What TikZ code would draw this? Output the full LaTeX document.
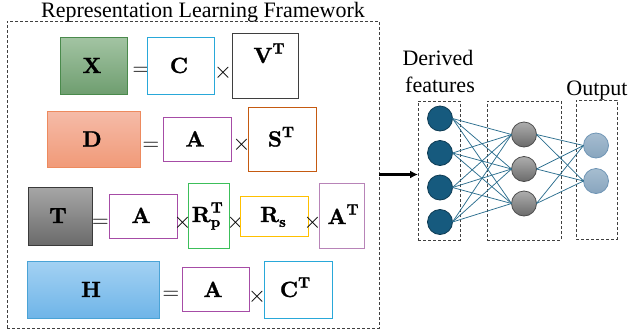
\RequirePackage{fix-cm}
\documentclass[tikz,border=0pt]{standalone}
\usepackage[no-math]{fontspec}
\setmainfont{Liberation Serif}
\newfontfamily\labfont{lmroman10-bold.otf}[FakeBold=1.3]
\newcommand\supT[1]{\raisebox{0.43em}{\fontsize{15}{15}\selectfont #1}}
\newcommand\subS[1]{\raisebox{-0.22em}{\fontsize{15}{15}\selectfont #1}}
\usetikzlibrary{arrows.meta}
\definecolor{xborder}{HTML}{4A8A4C}
\definecolor{xtop}{HTML}{A3C4A3}
\definecolor{xbot}{HTML}{6F9E70}
\definecolor{dborder}{HTML}{ED8A5E}
\definecolor{dtop}{HTML}{F5BBA8}
\definecolor{dbot}{HTML}{F19A78}
\definecolor{tborder}{HTML}{3A3A3A}
\definecolor{ttop}{HTML}{A6A6A6}
\definecolor{tbot}{HTML}{6B6B6B}
\definecolor{hborder}{HTML}{4AA3D6}
\definecolor{htop}{HTML}{A3D1F3}
\definecolor{hbot}{HTML}{6FB5E8}
\definecolor{cblue}{HTML}{29A8D9}
\definecolor{vgray}{HTML}{3F3F3F}
\definecolor{sorange}{HTML}{C55A11}
\definecolor{apurple}{HTML}{A64CA6}
\definecolor{rgreen}{HTML}{3CBF5A}
\definecolor{ryellow}{HTML}{FFC000}
\definecolor{amauve}{HTML}{B884B8}
\definecolor{inneur}{HTML}{165A7E}
\definecolor{inneurd}{HTML}{0D3A52}
\definecolor{outtop}{HTML}{A6BDD0}
\definecolor{outbot}{HTML}{88A5BE}
\definecolor{outd}{HTML}{6F95B5}
\definecolor{edgec}{HTML}{2D6F8F}
\begin{document}
\begin{tikzpicture}[x=1pt,y=-1pt,
  every node/.style={inner sep=0pt, outer sep=0pt},
  big/.style={font=\fontsize{22}{26}\selectfont},
  op/.style={font=\fontsize{23}{27}\selectfont},
  lab/.style={font={\fontsize{22}{26}\labfont}},
  mat/.style={draw, line width=0.9pt, fill=white},
  dbox/.style={draw=black!75, dashed, dash pattern=on 3pt off 2pt, line width=0.8pt},
  neuron/.style={circle, minimum size=25pt, line width=0.8pt},
  edge/.style={draw=edgec, line width=0.75pt}]
\useasboundingbox (0,0) rectangle (629,335);

% outer framework
\node[dbox, minimum width=372pt, minimum height=307pt] (outer) at (193,174.5) {};
\node[big, anchor=base] (title) at (203,17) {Representation Learning Framework};

% row X
\node[mat, draw=xborder, top color=xtop, bottom color=xbot, minimum width=67pt, minimum height=57pt] (X) at (93.5,65.5) {};
\node[lab, anchor=base] (Xl) at (92,73) {X};
\node[op] (eq1) at (141,71) {$=$};
\node[mat, draw=cblue, minimum width=67pt, minimum height=57pt] (C) at (180.5,65.5) {};
\node[lab, anchor=base] (Cl) at (179,73) {C};
\node[op] (t1) at (223,73) {$\times$};
\node[mat, draw=vgray, minimum width=66pt, minimum height=65pt] (VT) at (265,65.5) {};
\node[lab, anchor=base] (VTl) at (269,63) {V\supT{T}};

% row D
\node[mat, draw=dborder, top color=dtop, bottom color=dbot, minimum width=93pt, minimum height=56pt] (D) at (93.5,139) {};
\node[lab, anchor=base] (Dl) at (92,146.5) {D};
\node[op] (eq2) at (151,146) {$=$};
\node[mat, draw=apurple, minimum width=68pt, minimum height=44pt] (A1) at (197,139) {};
\node[lab, anchor=base] (A1l) at (195,146.5) {A};
\node[op] (t2) at (241.5,145) {$\times$};
\node[mat, draw=sorange, minimum width=68pt, minimum height=64pt] (ST) at (282,139) {};
\node[lab, anchor=base] (STl) at (281,146.5) {S\supT{T}};

% row T
\node[mat, draw=tborder, top color=ttop, bottom color=tbot, minimum width=64pt, minimum height=58pt] (T) at (60,216) {};
\node[lab, anchor=base] (Tl) at (58,223) {T};
\node[op] (eq3) at (100.5,223) {$=$};
\node[mat, draw=apurple, minimum width=68pt, minimum height=44pt] (A2) at (143,216) {};
\node[lab, anchor=base] (A2l) at (141,223) {A};
\node[op] (t3) at (182.5,223) {$\times$};
\node[mat, draw=rgreen, minimum width=41pt, minimum height=65pt] (RpT) at (208.5,215.5) {};
\node[lab, anchor=base] (RpTl) at (206,222) {R\rlap{\supT{T}}\subS{p}};
\node[op] (t4) at (235.5,223) {$\times$};
\node[mat, draw=ryellow, minimum width=68pt, minimum height=40pt] (Rs) at (274,216) {};
\node[lab, anchor=base] (Rsl) at (273,222) {R\subS{s}};
\node[op] (t5) at (312.5,223) {$\times$};
\node[mat, draw=amauve, minimum width=45pt, minimum height=65pt] (AT) at (341.5,215.5) {};
\node[lab, anchor=base] (ATl) at (343,224) {A\supT{T}};

% row H
\node[mat, draw=hborder, top color=htop, bottom color=hbot, minimum width=132pt, minimum height=57pt] (H) at (93,289.5) {};
\node[lab, anchor=base] (Hl) at (91,297) {H};
\node[op] (eq4) at (171,295.5) {$=$};
\node[mat, draw=apurple, minimum width=67pt, minimum height=44pt] (A3) at (215.5,289) {};
\node[lab, anchor=base] (A3l) at (213,297) {A};
\node[op] (t6) at (257,296.5) {$\times$};
\node[mat, draw=cblue, minimum width=68pt, minimum height=57pt] (CT) at (298,289.5) {};
\node[lab, anchor=base] (CTl) at (295,297) {C\supT{T}};

% network boxes
\node[dbox, minimum width=42pt, minimum height=139pt] (b1) at (439,170.5) {};
\node[dbox, minimum width=74pt, minimum height=139pt] (b2) at (524,170.5) {};
\node[dbox, minimum width=41pt, minimum height=139pt] (b3) at (596.5,169.5) {};

\node[big, anchor=base] (der1) at (438,65) {Derived};
\node[big, anchor=base] (der2) at (440,92) {features};
\node[big, anchor=base] (outl) at (597,95) {Output};

% neurons
\foreach \i/\y in {1/118.5,2/153,3/187.5,4/222}
  \node[neuron, fill=inneur, draw=inneurd] (i\i) at (440,\y) {};
\foreach \j/\y in {1/134.5,2/169,3/203.5}
  \node[neuron, draw=black!70, top color=black!32, bottom color=black!58] (h\j) at (524,\y) {};
\foreach \k/\y in {1/145.5,2/181}
  \node[neuron, draw=outd, top color=outtop, bottom color=outbot] (o\k) at (596,\y) {};

\foreach \i in {1,...,4}
  \foreach \j in {1,2,3}
    \draw[edge] (i\i.east) -- (h\j.west);
\foreach \j in {1,2,3}
  \foreach \k in {1,2}
    \draw[edge] (h\j.east) -- (o\k.west);

% arrow
\draw[line width=2.6pt, -{Latex[length=8pt,width=8pt]}] (outer.east) -- (outer.east -| b1.west);
\end{tikzpicture}
\end{document}
